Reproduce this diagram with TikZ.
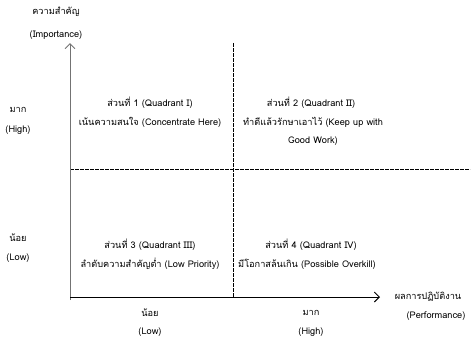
\documentclass[tikz,border=0pt]{standalone}
\usepackage{fontspec}
\setmainfont[Script=Thai]{Loma}
\usetikzlibrary{arrows.meta}
\begin{document}
\begin{tikzpicture}[x=1pt,y=-1pt,
  lbl/.style={font=\fontsize{9.2}{11}\selectfont, inner sep=0pt, anchor=center},
  axis/.style={line width=0.9pt, -{Straight Barb[length=5pt,width=10pt]}},
  divider/.style={line width=0.6pt, dash pattern=on 4pt off 1pt}]
\useasboundingbox (0,0) rectangle (472,341);
\coordinate (O) at (70,297);
\coordinate (ytop) at (70,43);
\coordinate (ybot) at (70,300);
\coordinate (xend) at (380,297);
\coordinate (vtop) at (233,43);
\coordinate (vbot) at (233,297);
\coordinate (hl) at (70,169);
\coordinate (hr) at (470,169);
\draw[divider] (vtop) -- (vbot);
\draw[divider] (hl) -- (hr);
\draw[axis, draw=black!55] (ybot) -- (ytop);
\draw[axis] (O) -- (xend);
% y axis title
\node[lbl] (yt1) at (56,12) {ความสำคัญ};
\node[lbl] (yt2) at (56,35) {(Importance)};
% left labels
\node[lbl] (h1) at (18,110) {มาก};
\node[lbl] (h2) at (18,130) {(High)};
\node[lbl] (l1) at (18,238) {น้อย};
\node[lbl] (l2) at (18,258) {(Low)};
% quadrants
\node[lbl] (q1a) at (150,103) {ส่วนที่ 1 (Quadrant I)};
\node[lbl] (q1b) at (150,122) {เน้นความสนใจ (Concentrate Here)};
\node[lbl] (q2a) at (311,103) {ส่วนที่ 2 (Quadrant II)};
\node[lbl] (q2b) at (313,122) {ทำดีแล้วรักษาเอาไว้ (Keep up with};
\node[lbl] (q2c) at (313,141) {Good Work)};
\node[lbl] (q3a) at (150,245) {ส่วนที่ 3 (Quadrant III)};
\node[lbl] (q3b) at (150,264) {ลำดับความสำคัญต่ำ (Low Priority)};
\node[lbl] (q4a) at (311,245) {ส่วนที่ 4 (Quadrant IV)};
\node[lbl] (q4b) at (307,264) {มีโอกาสล้นเกิน (Possible Overkill)};
% bottom labels
\node[lbl] (b1) at (150,313) {น้อย};
\node[lbl] (b2) at (150,332) {(Low)};
\node[lbl] (b3) at (311,313) {มาก};
\node[lbl] (b4) at (311,332) {(High)};
\node[lbl] (xt1) at (428,297) {ผลการปฏิบัติงาน};
\node[lbl] (xt2) at (436,316) {(Performance)};
\end{tikzpicture}
\end{document}
